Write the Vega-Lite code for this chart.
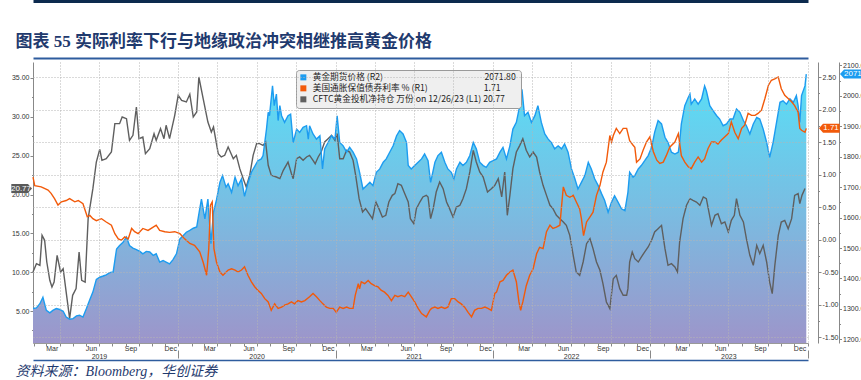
{
  "$schema": "https://vega.github.io/schema/vega-lite/v6.json",
  "width": 775,
  "height": 281,
  "autosize": {"type": "none"},
  "padding": {"left": 33, "top": 62, "right": 53, "bottom": 37},
  "background": "white",
  "config": {
    "view": {"stroke": null},
    "axis": {"labelFont": "Liberation Sans", "labelFontSize": 7, "labelColor": "#333333", "domainColor": "#888888", "tickColor": "#888888", "titleFont": "Liberation Sans"}
  },
  "datasets": {
    "gold": [
      {"date":"2019-01-29","gold":1301},{"date":"2019-02-06","gold":1303},{"date":"2019-02-14","gold":1317},{"date":"2019-02-21","gold":1338},
      {"date":"2019-03-01","gold":1295},{"date":"2019-03-09","gold":1287},{"date":"2019-03-16","gold":1295},{"date":"2019-03-24","gold":1301},
      {"date":"2019-04-01","gold":1298},{"date":"2019-04-09","gold":1292},{"date":"2019-04-16","gold":1273},{"date":"2019-04-24","gold":1266},
      {"date":"2019-05-02","gold":1268},{"date":"2019-05-10","gold":1277},{"date":"2019-05-17","gold":1279},{"date":"2019-05-25","gold":1273},
      {"date":"2019-06-02","gold":1301},{"date":"2019-06-10","gold":1331},{"date":"2019-06-17","gold":1355},{"date":"2019-06-25","gold":1397},
      {"date":"2019-07-03","gold":1404},{"date":"2019-07-11","gold":1408},{"date":"2019-07-18","gold":1412},{"date":"2019-07-26","gold":1419},
      {"date":"2019-08-03","gold":1421},{"date":"2019-08-11","gold":1497},{"date":"2019-08-18","gold":1508},{"date":"2019-08-26","gold":1519},
      {"date":"2019-09-03","gold":1536},{"date":"2019-09-10","gold":1508},{"date":"2019-09-18","gold":1500},{"date":"2019-09-26","gold":1495},
      {"date":"2019-10-04","gold":1489},{"date":"2019-10-11","gold":1481},{"date":"2019-10-19","gold":1489},{"date":"2019-10-27","gold":1487},
      {"date":"2019-11-04","gold":1476},{"date":"2019-11-11","gold":1481},{"date":"2019-11-19","gold":1454},{"date":"2019-11-27","gold":1459},
      {"date":"2019-12-04","gold":1454},{"date":"2019-12-12","gold":1448},{"date":"2019-12-20","gold":1462},{"date":"2019-12-28","gold":1481},
      {"date":"2020-01-05","gold":1530},{"date":"2020-01-13","gold":1541},{"date":"2020-01-20","gold":1552},{"date":"2020-01-28","gold":1558},
      {"date":"2020-02-05","gold":1565},{"date":"2020-02-13","gold":1569},{"date":"2020-02-20","gold":1629},{"date":"2020-02-24","gold":1661},
      {"date":"2020-03-03","gold":1596},{"date":"2020-03-10","gold":1661},{"date":"2020-03-17","gold":1514},{"date":"2020-03-23","gold":1618},
      {"date":"2020-03-30","gold":1659},{"date":"2020-04-07","gold":1716},{"date":"2020-04-13","gold":1738},{"date":"2020-04-21","gold":1700},
      {"date":"2020-04-26","gold":1711},{"date":"2020-05-04","gold":1683},{"date":"2020-05-12","gold":1733},{"date":"2020-05-19","gold":1705},
      {"date":"2020-05-27","gold":1727},{"date":"2020-06-03","gold":1670},{"date":"2020-06-11","gold":1714},{"date":"2020-06-19","gold":1749},
      {"date":"2020-06-27","gold":1769},{"date":"2020-07-04","gold":1787},{"date":"2020-07-12","gold":1793},{"date":"2020-07-16","gold":1804},
      {"date":"2020-07-24","gold":1891},{"date":"2020-07-28","gold":1946},{"date":"2020-07-31","gold":1935},{"date":"2020-08-07","gold":2033},
      {"date":"2020-08-11","gold":1968},{"date":"2020-08-16","gold":2006},{"date":"2020-08-20","gold":1919},{"date":"2020-08-24","gold":1968},
      {"date":"2020-08-28","gold":1935},{"date":"2020-09-04","gold":1913},{"date":"2020-09-12","gold":1935},{"date":"2020-09-18","gold":1940},
      {"date":"2020-09-24","gold":1847},{"date":"2020-10-02","gold":1891},{"date":"2020-10-09","gold":1880},{"date":"2020-10-17","gold":1897},
      {"date":"2020-10-25","gold":1902},{"date":"2020-10-29","gold":1858},{"date":"2020-11-01","gold":1902},{"date":"2020-11-09","gold":1875},
      {"date":"2020-11-17","gold":1858},{"date":"2020-11-25","gold":1869},{"date":"2020-12-01","gold":1760},{"date":"2020-12-06","gold":1826},
      {"date":"2020-12-14","gold":1847},{"date":"2020-12-22","gold":1869},{"date":"2020-12-30","gold":1858},{"date":"2021-01-04","gold":1935},
      {"date":"2021-01-10","gold":1847},{"date":"2021-01-18","gold":1836},{"date":"2021-01-26","gold":1815},{"date":"2021-02-02","gold":1831},
      {"date":"2021-02-10","gold":1815},{"date":"2021-02-18","gold":1793},{"date":"2021-02-25","gold":1749},{"date":"2021-03-05","gold":1694},
      {"date":"2021-03-13","gold":1705},{"date":"2021-03-21","gold":1716},{"date":"2021-03-28","gold":1705},{"date":"2021-04-05","gold":1749},
      {"date":"2021-04-13","gold":1760},{"date":"2021-04-21","gold":1782},{"date":"2021-04-28","gold":1793},{"date":"2021-05-06","gold":1815},
      {"date":"2021-05-14","gold":1836},{"date":"2021-05-22","gold":1869},{"date":"2021-05-29","gold":1886},{"date":"2021-06-06","gold":1875},
      {"date":"2021-06-14","gold":1847},{"date":"2021-06-18","gold":1771},{"date":"2021-06-25","gold":1760},{"date":"2021-07-03","gold":1771},
      {"date":"2021-07-11","gold":1782},{"date":"2021-07-19","gold":1793},{"date":"2021-07-26","gold":1809},{"date":"2021-08-03","gold":1787},
      {"date":"2021-08-09","gold":1716},{"date":"2021-08-19","gold":1782},{"date":"2021-08-26","gold":1804},{"date":"2021-09-03","gold":1815},
      {"date":"2021-09-11","gold":1782},{"date":"2021-09-18","gold":1760},{"date":"2021-09-26","gold":1749},{"date":"2021-10-02","gold":1727},
      {"date":"2021-10-08","gold":1760},{"date":"2021-10-16","gold":1782},{"date":"2021-10-23","gold":1771},{"date":"2021-10-31","gold":1782},
      {"date":"2021-11-08","gold":1804},{"date":"2021-11-16","gold":1847},{"date":"2021-11-23","gold":1826},{"date":"2021-12-01","gold":1782},
      {"date":"2021-12-09","gold":1771},{"date":"2021-12-16","gold":1765},{"date":"2021-12-24","gold":1782},{"date":"2022-01-01","gold":1787},
      {"date":"2022-01-09","gold":1793},{"date":"2022-01-17","gold":1815},{"date":"2022-01-24","gold":1831},{"date":"2022-02-01","gold":1793},
      {"date":"2022-02-09","gold":1836},{"date":"2022-02-16","gold":1891},{"date":"2022-02-24","gold":1913},{"date":"2022-03-04","gold":1968},
      {"date":"2022-03-09","gold":2022},{"date":"2022-03-15","gold":1935},{"date":"2022-03-23","gold":1946},{"date":"2022-03-31","gold":1913},
      {"date":"2022-04-08","gold":1935},{"date":"2022-04-15","gold":1968},{"date":"2022-04-23","gold":1913},{"date":"2022-05-01","gold":1875},
      {"date":"2022-05-09","gold":1858},{"date":"2022-05-16","gold":1847},{"date":"2022-05-24","gold":1826},{"date":"2022-06-01","gold":1836},
      {"date":"2022-06-09","gold":1826},{"date":"2022-06-16","gold":1842},{"date":"2022-06-24","gold":1815},{"date":"2022-07-02","gold":1760},
      {"date":"2022-07-10","gold":1727},{"date":"2022-07-17","gold":1694},{"date":"2022-07-25","gold":1716},{"date":"2022-08-02","gold":1738},
      {"date":"2022-08-10","gold":1782},{"date":"2022-08-17","gold":1760},{"date":"2022-08-25","gold":1727},{"date":"2022-09-02","gold":1705},
      {"date":"2022-09-10","gold":1678},{"date":"2022-09-17","gold":1656},{"date":"2022-09-25","gold":1618},{"date":"2022-10-03","gold":1651},
      {"date":"2022-10-10","gold":1672},{"date":"2022-10-18","gold":1651},{"date":"2022-10-26","gold":1629},{"date":"2022-11-03","gold":1623},
      {"date":"2022-11-10","gold":1683},{"date":"2022-11-14","gold":1749},{"date":"2022-11-22","gold":1733},{"date":"2022-11-26","gold":1738},
      {"date":"2022-12-04","gold":1760},{"date":"2022-12-11","gold":1771},{"date":"2022-12-19","gold":1787},{"date":"2022-12-27","gold":1804},
      {"date":"2023-01-04","gold":1831},{"date":"2023-01-11","gold":1880},{"date":"2023-01-19","gold":1919},{"date":"2023-01-27","gold":1908},
      {"date":"2023-02-04","gold":1864},{"date":"2023-02-11","gold":1847},{"date":"2023-02-19","gold":1815},{"date":"2023-02-27","gold":1809},
      {"date":"2023-03-07","gold":1815},{"date":"2023-03-10","gold":1847},{"date":"2023-03-14","gold":1908},{"date":"2023-03-22","gold":1968},
      {"date":"2023-03-30","gold":1995},{"date":"2023-04-03","gold":2006},{"date":"2023-04-06","gold":1973},{"date":"2023-04-14","gold":1990},
      {"date":"2023-04-22","gold":1973},{"date":"2023-04-30","gold":1990},{"date":"2023-05-07","gold":2033},{"date":"2023-05-11","gold":2017},
      {"date":"2023-05-19","gold":1968},{"date":"2023-05-27","gold":1951},{"date":"2023-06-04","gold":1935},{"date":"2023-06-11","gold":1924},
      {"date":"2023-06-19","gold":1902},{"date":"2023-06-27","gold":1908},{"date":"2023-07-05","gold":1924},{"date":"2023-07-12","gold":1924},
      {"date":"2023-07-20","gold":1957},{"date":"2023-07-28","gold":1946},{"date":"2023-08-05","gold":1919},{"date":"2023-08-12","gold":1902},
      {"date":"2023-08-20","gold":1875},{"date":"2023-08-28","gold":1908},{"date":"2023-09-05","gold":1929},{"date":"2023-09-12","gold":1924},
      {"date":"2023-09-20","gold":1891},{"date":"2023-09-28","gold":1847},{"date":"2023-10-05","gold":1798},{"date":"2023-10-13","gold":1847},
      {"date":"2023-10-21","gold":1913},{"date":"2023-10-29","gold":1979},{"date":"2023-11-05","gold":1984},{"date":"2023-11-13","gold":1973},
      {"date":"2023-11-21","gold":1990},{"date":"2023-11-29","gold":1979},{"date":"2023-12-06","gold":2001},{"date":"2023-12-10","gold":1968},
      {"date":"2023-12-14","gold":1913},{"date":"2023-12-18","gold":2001},{"date":"2023-12-26","gold":2033},{"date":"2023-12-29","gold":2071.8}
    ],
    "ry": [
      {"date":"2019-01-29","ry":0.96},{"date":"2019-02-02","ry":0.83},{"date":"2019-02-17","ry":0.81},{"date":"2019-03-05","ry":0.76},
      {"date":"2019-03-12","ry":0.71},{"date":"2019-03-20","ry":0.63},{"date":"2019-03-28","ry":0.53},{"date":"2019-04-05","ry":0.58},
      {"date":"2019-04-16","ry":0.60},{"date":"2019-04-24","ry":0.63},{"date":"2019-05-06","ry":0.58},{"date":"2019-05-14","ry":0.60},
      {"date":"2019-05-25","ry":0.55},{"date":"2019-05-30","ry":0.45},{"date":"2019-06-04","ry":0.35},{"date":"2019-06-10","ry":0.37},
      {"date":"2019-06-17","ry":0.32},{"date":"2019-06-25","ry":0.29},{"date":"2019-07-07","ry":0.32},{"date":"2019-07-18","ry":0.27},
      {"date":"2019-07-30","ry":0.22},{"date":"2019-08-07","ry":0.09},{"date":"2019-08-15","ry":0.01},{"date":"2019-08-22","ry":-0.01},
      {"date":"2019-08-30","ry":0.04},{"date":"2019-09-07","ry":0.01},{"date":"2019-09-15","ry":0.17},{"date":"2019-09-22","ry":0.12},
      {"date":"2019-09-30","ry":0.09},{"date":"2019-10-11","ry":0.17},{"date":"2019-10-23","ry":0.14},{"date":"2019-11-04","ry":0.19},
      {"date":"2019-11-11","ry":0.22},{"date":"2019-11-19","ry":0.14},{"date":"2019-12-01","ry":0.12},{"date":"2019-12-12","ry":0.11},
      {"date":"2019-12-24","ry":0.12},{"date":"2020-01-05","ry":0.09},{"date":"2020-01-16","ry":0.01},{"date":"2020-01-28","ry":-0.06},
      {"date":"2020-02-08","ry":-0.09},{"date":"2020-02-20","ry":-0.19},{"date":"2020-02-28","ry":-0.35},{"date":"2020-03-07","ry":-0.55},
      {"date":"2020-03-12","ry":-0.14},{"date":"2020-03-16","ry":0.53},{"date":"2020-03-20","ry":0.58},{"date":"2020-03-24","ry":-0.14},
      {"date":"2020-03-30","ry":-0.35},{"date":"2020-04-07","ry":-0.50},{"date":"2020-04-14","ry":-0.55},{"date":"2020-04-26","ry":-0.47},
      {"date":"2020-05-04","ry":-0.45},{"date":"2020-05-12","ry":-0.47},{"date":"2020-05-19","ry":-0.50},{"date":"2020-05-27","ry":-0.47},
      {"date":"2020-06-03","ry":-0.42},{"date":"2020-06-11","ry":-0.55},{"date":"2020-06-19","ry":-0.65},{"date":"2020-06-27","ry":-0.73},
      {"date":"2020-07-04","ry":-0.78},{"date":"2020-07-12","ry":-0.83},{"date":"2020-07-20","ry":-0.91},{"date":"2020-07-28","ry":-0.96},
      {"date":"2020-08-04","ry":-1.09},{"date":"2020-08-12","ry":-0.99},{"date":"2020-08-20","ry":-1.06},{"date":"2020-08-28","ry":-1.04},
      {"date":"2020-09-04","ry":-1.01},{"date":"2020-09-12","ry":-0.99},{"date":"2020-09-20","ry":-0.96},{"date":"2020-09-27","ry":-0.99},
      {"date":"2020-10-05","ry":-0.94},{"date":"2020-10-13","ry":-0.96},{"date":"2020-10-21","ry":-0.94},{"date":"2020-11-01","ry":-0.88},
      {"date":"2020-11-09","ry":-0.83},{"date":"2020-11-17","ry":-0.88},{"date":"2020-11-25","ry":-0.94},{"date":"2020-12-02","ry":-0.99},
      {"date":"2020-12-10","ry":-1.04},{"date":"2020-12-18","ry":-1.06},{"date":"2020-12-26","ry":-1.06},{"date":"2021-01-02","ry":-1.12},
      {"date":"2021-01-10","ry":-1.04},{"date":"2021-01-18","ry":-1.06},{"date":"2021-01-26","ry":-1.04},{"date":"2021-02-02","ry":-1.06},
      {"date":"2021-02-10","ry":-1.06},{"date":"2021-02-15","ry":-0.86},{"date":"2021-02-22","ry":-0.68},{"date":"2021-02-25","ry":-0.76},
      {"date":"2021-03-01","ry":-0.65},{"date":"2021-03-09","ry":-0.68},{"date":"2021-03-17","ry":-0.63},{"date":"2021-03-24","ry":-0.68},
      {"date":"2021-04-01","ry":-0.71},{"date":"2021-04-09","ry":-0.73},{"date":"2021-04-16","ry":-0.78},{"date":"2021-04-24","ry":-0.81},
      {"date":"2021-05-02","ry":-0.86},{"date":"2021-05-10","ry":-0.94},{"date":"2021-05-18","ry":-0.86},{"date":"2021-05-25","ry":-0.88},
      {"date":"2021-06-02","ry":-0.86},{"date":"2021-06-10","ry":-0.88},{"date":"2021-06-18","ry":-0.81},{"date":"2021-06-25","ry":-0.88},
      {"date":"2021-07-03","ry":-0.96},{"date":"2021-07-11","ry":-1.06},{"date":"2021-07-19","ry":-1.14},{"date":"2021-07-30","ry":-1.19},
      {"date":"2021-08-07","ry":-1.09},{"date":"2021-08-11","ry":-1.06},{"date":"2021-08-19","ry":-1.04},{"date":"2021-08-26","ry":-1.06},
      {"date":"2021-09-03","ry":-1.04},{"date":"2021-09-11","ry":-1.06},{"date":"2021-09-18","ry":-1.04},{"date":"2021-09-26","ry":-0.91},
      {"date":"2021-10-04","ry":-0.91},{"date":"2021-10-12","ry":-0.96},{"date":"2021-10-19","ry":-0.99},{"date":"2021-10-27","ry":-1.04},
      {"date":"2021-11-04","ry":-1.12},{"date":"2021-11-12","ry":-1.19},{"date":"2021-11-19","ry":-1.09},{"date":"2021-11-27","ry":-1.06},
      {"date":"2021-12-05","ry":-1.06},{"date":"2021-12-13","ry":-1.04},{"date":"2021-12-20","ry":-1.06},{"date":"2021-12-28","ry":-1.09},
      {"date":"2022-01-01","ry":-0.96},{"date":"2022-01-05","ry":-0.83},{"date":"2022-01-09","ry":-0.81},{"date":"2022-01-17","ry":-0.65},
      {"date":"2022-01-24","ry":-0.63},{"date":"2022-02-01","ry":-0.55},{"date":"2022-02-09","ry":-0.50},{"date":"2022-02-16","ry":-0.47},
      {"date":"2022-02-24","ry":-0.65},{"date":"2022-03-02","ry":-0.96},{"date":"2022-03-06","ry":-1.09},{"date":"2022-03-11","ry":-0.96},
      {"date":"2022-03-19","ry":-0.71},{"date":"2022-03-27","ry":-0.55},{"date":"2022-04-04","ry":-0.45},{"date":"2022-04-12","ry":-0.22},
      {"date":"2022-04-19","ry":-0.12},{"date":"2022-04-27","ry":-0.14},{"date":"2022-05-05","ry":0.12},{"date":"2022-05-13","ry":0.22},
      {"date":"2022-05-20","ry":0.17},{"date":"2022-05-28","ry":0.19},{"date":"2022-06-05","ry":0.22},{"date":"2022-06-13","ry":0.81},
      {"date":"2022-06-20","ry":0.68},{"date":"2022-06-28","ry":0.65},{"date":"2022-07-06","ry":0.68},{"date":"2022-07-13","ry":0.58},
      {"date":"2022-07-21","ry":0.47},{"date":"2022-07-25","ry":0.32},{"date":"2022-07-30","ry":0.06},{"date":"2022-08-06","ry":0.27},
      {"date":"2022-08-14","ry":0.35},{"date":"2022-08-21","ry":0.42},{"date":"2022-08-29","ry":0.68},{"date":"2022-09-06","ry":0.83},
      {"date":"2022-09-13","ry":1.04},{"date":"2022-09-21","ry":1.19},{"date":"2022-09-29","ry":1.60},{"date":"2022-10-03","ry":1.50},
      {"date":"2022-10-07","ry":1.60},{"date":"2022-10-14","ry":1.71},{"date":"2022-10-22","ry":1.63},{"date":"2022-10-30","ry":1.71},
      {"date":"2022-11-07","ry":1.71},{"date":"2022-11-14","ry":1.52},{"date":"2022-11-22","ry":1.45},{"date":"2022-11-26","ry":1.42},
      {"date":"2022-11-30","ry":1.19},{"date":"2022-12-08","ry":1.24},{"date":"2022-12-15","ry":1.37},{"date":"2022-12-23","ry":1.50},
      {"date":"2022-12-31","ry":1.58},{"date":"2023-01-08","ry":1.35},{"date":"2023-01-16","ry":1.22},{"date":"2023-01-23","ry":1.17},
      {"date":"2023-01-31","ry":1.19},{"date":"2023-02-07","ry":1.29},{"date":"2023-02-15","ry":1.42},{"date":"2023-02-27","ry":1.50},
      {"date":"2023-03-07","ry":1.63},{"date":"2023-03-14","ry":1.29},{"date":"2023-03-22","ry":1.19},{"date":"2023-03-30","ry":1.12},
      {"date":"2023-04-06","ry":1.09},{"date":"2023-04-14","ry":1.19},{"date":"2023-04-22","ry":1.27},{"date":"2023-04-30","ry":1.19},
      {"date":"2023-05-07","ry":1.24},{"date":"2023-05-15","ry":1.40},{"date":"2023-05-23","ry":1.50},{"date":"2023-05-31","ry":1.50},
      {"date":"2023-06-07","ry":1.47},{"date":"2023-06-15","ry":1.53},{"date":"2023-06-23","ry":1.58},{"date":"2023-07-01","ry":1.63},
      {"date":"2023-07-08","ry":1.81},{"date":"2023-07-16","ry":1.65},{"date":"2023-07-24","ry":1.55},{"date":"2023-08-01","ry":1.71},
      {"date":"2023-08-08","ry":1.76},{"date":"2023-08-16","ry":1.94},{"date":"2023-08-24","ry":1.91},{"date":"2023-09-01","ry":1.91},
      {"date":"2023-09-08","ry":1.94},{"date":"2023-09-16","ry":1.99},{"date":"2023-09-24","ry":2.17},{"date":"2023-10-02","ry":2.37},
      {"date":"2023-10-09","ry":2.45},{"date":"2023-10-17","ry":2.47},{"date":"2023-10-25","ry":2.50},{"date":"2023-11-01","ry":2.32},
      {"date":"2023-11-09","ry":2.22},{"date":"2023-11-17","ry":2.17},{"date":"2023-11-25","ry":2.12},{"date":"2023-12-02","ry":2.06},
      {"date":"2023-12-10","ry":1.96},{"date":"2023-12-14","ry":1.71},{"date":"2023-12-18","ry":1.68},{"date":"2023-12-26","ry":1.65},
      {"date":"2023-12-29","ry":1.71}
    ],
    "cftc": [
      {"date":"2019-01-29","cftc":10.02},{"date":"2019-02-06","cftc":11.09},{"date":"2019-02-14","cftc":10.88},{"date":"2019-02-19","cftc":14.74},
      {"date":"2019-02-25","cftc":14.10},{"date":"2019-03-02","cftc":11.31},{"date":"2019-03-09","cftc":8.95},{"date":"2019-03-14","cftc":8.09},
      {"date":"2019-03-19","cftc":8.73},{"date":"2019-03-26","cftc":12.17},{"date":"2019-04-03","cftc":10.02},{"date":"2019-04-09","cftc":10.45},
      {"date":"2019-04-17","cftc":7.02},{"date":"2019-04-24","cftc":4.01},{"date":"2019-05-01","cftc":7.02},{"date":"2019-05-09","cftc":7.88},
      {"date":"2019-05-16","cftc":12.60},{"date":"2019-05-22","cftc":8.95},{"date":"2019-05-30","cftc":8.73},{"date":"2019-06-06","cftc":16.89},
      {"date":"2019-06-17","cftc":20.75},{"date":"2019-06-25","cftc":24.18},{"date":"2019-07-03","cftc":25.82},{"date":"2019-07-08","cftc":24.40},
      {"date":"2019-07-18","cftc":24.61},{"date":"2019-07-30","cftc":25.47},{"date":"2019-08-07","cftc":29.12},{"date":"2019-08-18","cftc":29.12},
      {"date":"2019-08-24","cftc":29.98},{"date":"2019-09-03","cftc":29.76},{"date":"2019-09-10","cftc":26.97},{"date":"2019-09-18","cftc":27.62},
      {"date":"2019-09-26","cftc":31.27},{"date":"2019-10-02","cftc":27.19},{"date":"2019-10-11","cftc":27.40},{"date":"2019-10-17","cftc":25.26},
      {"date":"2019-10-27","cftc":25.90},{"date":"2019-11-06","cftc":27.83},{"date":"2019-11-11","cftc":26.97},{"date":"2019-11-21","cftc":28.48},
      {"date":"2019-11-29","cftc":27.19},{"date":"2019-12-04","cftc":28.91},{"date":"2019-12-12","cftc":27.19},{"date":"2019-12-24","cftc":30.19},
      {"date":"2020-01-01","cftc":32.77},{"date":"2020-01-09","cftc":32.12},{"date":"2020-01-20","cftc":31.91},{"date":"2020-01-28","cftc":32.90},
      {"date":"2020-02-05","cftc":29.98},{"date":"2020-02-13","cftc":30.62},{"date":"2020-02-18","cftc":35.13},{"date":"2020-02-28","cftc":32.34},
      {"date":"2020-03-10","cftc":29.33},{"date":"2020-03-18","cftc":28.05},{"date":"2020-03-23","cftc":28.69},{"date":"2020-04-03","cftc":25.26},
      {"date":"2020-04-10","cftc":24.83},{"date":"2020-04-18","cftc":25.04},{"date":"2020-04-26","cftc":26.12},{"date":"2020-05-08","cftc":24.61},
      {"date":"2020-05-15","cftc":25.04},{"date":"2020-05-23","cftc":23.33},{"date":"2020-05-31","cftc":22.04},{"date":"2020-06-07","cftc":20.97},
      {"date":"2020-06-15","cftc":22.47},{"date":"2020-06-23","cftc":25.04},{"date":"2020-07-01","cftc":26.55},{"date":"2020-07-08","cftc":26.55},
      {"date":"2020-07-16","cftc":26.33},{"date":"2020-07-22","cftc":26.76},{"date":"2020-07-28","cftc":23.76},{"date":"2020-08-04","cftc":22.47},
      {"date":"2020-08-16","cftc":22.25},{"date":"2020-08-24","cftc":22.04},{"date":"2020-09-01","cftc":23.11},{"date":"2020-09-12","cftc":24.18},
      {"date":"2020-09-20","cftc":22.68},{"date":"2020-09-24","cftc":22.04},{"date":"2020-10-02","cftc":24.61},{"date":"2020-10-09","cftc":24.83},
      {"date":"2020-10-17","cftc":24.40},{"date":"2020-10-25","cftc":24.83},{"date":"2020-11-01","cftc":25.04},{"date":"2020-11-09","cftc":24.40},
      {"date":"2020-11-14","cftc":23.97},{"date":"2020-11-21","cftc":24.83},{"date":"2020-11-28","cftc":25.47},{"date":"2020-12-06","cftc":26.76},
      {"date":"2020-12-14","cftc":27.19},{"date":"2020-12-22","cftc":27.62},{"date":"2020-12-30","cftc":26.97},{"date":"2021-01-04","cftc":27.83},
      {"date":"2021-01-10","cftc":24.61},{"date":"2021-01-18","cftc":24.61},{"date":"2021-01-26","cftc":25.69},{"date":"2021-02-02","cftc":25.47},
      {"date":"2021-02-10","cftc":24.40},{"date":"2021-02-16","cftc":22.47},{"date":"2021-02-24","cftc":19.46},{"date":"2021-03-04","cftc":17.75},
      {"date":"2021-03-11","cftc":18.18},{"date":"2021-03-19","cftc":17.53},{"date":"2021-03-27","cftc":16.89},{"date":"2021-04-04","cftc":19.03},
      {"date":"2021-04-11","cftc":18.18},{"date":"2021-04-19","cftc":17.10},{"date":"2021-04-27","cftc":17.32},{"date":"2021-05-04","cftc":19.03},
      {"date":"2021-05-12","cftc":19.89},{"date":"2021-05-18","cftc":20.11},{"date":"2021-05-25","cftc":21.39},{"date":"2021-06-02","cftc":21.18},
      {"date":"2021-06-10","cftc":20.11},{"date":"2021-06-18","cftc":19.03},{"date":"2021-06-23","cftc":16.89},{"date":"2021-07-01","cftc":16.24},
      {"date":"2021-07-07","cftc":18.18},{"date":"2021-07-15","cftc":19.03},{"date":"2021-07-22","cftc":19.68},{"date":"2021-07-30","cftc":19.89},
      {"date":"2021-08-03","cftc":19.68},{"date":"2021-08-09","cftc":16.89},{"date":"2021-08-15","cftc":18.18},{"date":"2021-08-22","cftc":20.32},
      {"date":"2021-08-30","cftc":21.61},{"date":"2021-09-07","cftc":20.75},{"date":"2021-09-15","cftc":19.03},{"date":"2021-09-22","cftc":18.18},
      {"date":"2021-09-30","cftc":17.10},{"date":"2021-10-08","cftc":18.39},{"date":"2021-10-16","cftc":18.61},{"date":"2021-10-23","cftc":19.46},
      {"date":"2021-10-31","cftc":20.75},{"date":"2021-11-08","cftc":22.90},{"date":"2021-11-16","cftc":25.69},{"date":"2021-11-23","cftc":24.18},
      {"date":"2021-12-01","cftc":22.90},{"date":"2021-12-09","cftc":22.25},{"date":"2021-12-19","cftc":20.32},{"date":"2021-12-28","cftc":20.75},
      {"date":"2022-01-05","cftc":21.18},{"date":"2022-01-13","cftc":22.04},{"date":"2022-01-21","cftc":19.68},{"date":"2022-01-28","cftc":22.90},
      {"date":"2022-02-03","cftc":17.32},{"date":"2022-02-09","cftc":19.89},{"date":"2022-02-16","cftc":23.33},{"date":"2022-02-24","cftc":25.47},
      {"date":"2022-03-04","cftc":26.33},{"date":"2022-03-11","cftc":27.19},{"date":"2022-03-19","cftc":25.69},{"date":"2022-03-27","cftc":24.83},
      {"date":"2022-04-04","cftc":25.47},{"date":"2022-04-12","cftc":24.83},{"date":"2022-04-19","cftc":22.90},{"date":"2022-04-27","cftc":21.18},
      {"date":"2022-05-05","cftc":19.89},{"date":"2022-05-13","cftc":18.61},{"date":"2022-05-20","cftc":18.18},{"date":"2022-05-28","cftc":17.32},
      {"date":"2022-06-05","cftc":16.89},{"date":"2022-06-13","cftc":16.46},{"date":"2022-06-20","cftc":16.03},{"date":"2022-06-28","cftc":14.74},
      {"date":"2022-07-06","cftc":12.17},{"date":"2022-07-13","cftc":10.02},{"date":"2022-07-21","cftc":9.59},{"date":"2022-07-29","cftc":11.31},
      {"date":"2022-08-06","cftc":13.67},{"date":"2022-08-14","cftc":14.31},{"date":"2022-08-21","cftc":13.03},{"date":"2022-08-29","cftc":11.31},
      {"date":"2022-09-06","cftc":10.24},{"date":"2022-09-13","cftc":8.52},{"date":"2022-09-21","cftc":6.16},{"date":"2022-09-29","cftc":5.30},
      {"date":"2022-10-07","cftc":9.16},{"date":"2022-10-14","cftc":9.59},{"date":"2022-10-22","cftc":7.88},{"date":"2022-10-30","cftc":7.02},
      {"date":"2022-11-07","cftc":7.02},{"date":"2022-11-10","cftc":7.88},{"date":"2022-11-14","cftc":11.31},{"date":"2022-11-20","cftc":12.60},
      {"date":"2022-11-26","cftc":11.74},{"date":"2022-12-04","cftc":11.31},{"date":"2022-12-11","cftc":11.95},{"date":"2022-12-19","cftc":12.60},
      {"date":"2022-12-27","cftc":13.24},{"date":"2023-01-04","cftc":14.10},{"date":"2023-01-11","cftc":15.17},{"date":"2023-01-19","cftc":15.60},
      {"date":"2023-01-27","cftc":16.03},{"date":"2023-02-04","cftc":13.03},{"date":"2023-02-11","cftc":10.88},{"date":"2023-02-19","cftc":11.09},
      {"date":"2023-02-27","cftc":10.67},{"date":"2023-03-05","cftc":10.02},{"date":"2023-03-10","cftc":13.88},{"date":"2023-03-18","cftc":16.89},
      {"date":"2023-03-26","cftc":18.61},{"date":"2023-04-03","cftc":19.46},{"date":"2023-04-10","cftc":19.25},{"date":"2023-04-18","cftc":19.03},
      {"date":"2023-04-26","cftc":18.61},{"date":"2023-05-04","cftc":19.68},{"date":"2023-05-11","cftc":19.46},{"date":"2023-05-23","cftc":16.03},
      {"date":"2023-05-31","cftc":17.32},{"date":"2023-06-07","cftc":17.53},{"date":"2023-06-15","cftc":16.24},{"date":"2023-06-23","cftc":16.46},
      {"date":"2023-07-01","cftc":15.17},{"date":"2023-07-08","cftc":16.67},{"date":"2023-07-15","cftc":17.32},{"date":"2023-07-20","cftc":19.46},
      {"date":"2023-07-28","cftc":17.32},{"date":"2023-08-05","cftc":16.46},{"date":"2023-08-12","cftc":14.31},{"date":"2023-08-20","cftc":12.17},
      {"date":"2023-08-28","cftc":10.88},{"date":"2023-09-05","cftc":13.45},{"date":"2023-09-12","cftc":12.38},{"date":"2023-09-20","cftc":13.45},
      {"date":"2023-09-28","cftc":11.31},{"date":"2023-10-05","cftc":8.73},{"date":"2023-10-11","cftc":7.23},{"date":"2023-10-17","cftc":10.88},
      {"date":"2023-10-25","cftc":14.74},{"date":"2023-11-01","cftc":16.46},{"date":"2023-11-09","cftc":16.67},{"date":"2023-11-17","cftc":15.60},
      {"date":"2023-11-25","cftc":16.89},{"date":"2023-12-02","cftc":19.89},{"date":"2023-12-10","cftc":20.11},{"date":"2023-12-14","cftc":18.82},
      {"date":"2023-12-19","cftc":19.89},{"date":"2023-12-26","cftc":20.77}
    ]
  },
  "layer": [
    {
      "data": {"name": "gold"},
      "mark": {"type": "area", "opacity": 1, "color": {"gradient": "linear", "x1": 0, "y1": 0, "x2": 0, "y2": 1, "stops": [{"offset": 0, "color": "#58dff7"}, {"offset": 0.5, "color": "#79bde2"}, {"offset": 1, "color": "#9d95ca"}]}},
      "encoding": {
        "x": {"field": "date", "type": "temporal", "scale": {"type": "utc", "domain": [{"year": 2019, "month": 1, "date": 29, "utc": true}, {"year": 2024, "month": 1, "date": 2, "utc": true}]},
          "axis": {"orient": "bottom", "title": null, "labels": false, "tickCount": {"interval": "month", "step": 1}, "ticks": true, "tickSize": 3, "domain": true, "domainColor": "#999999", "grid": true, "gridColor": "#b5b5b5", "gridDash": [1, 2], "gridOpacity": {"condition": {"test": "utcmonth(datum.value) % 3 == 0", "value": 1}, "value": 0}, "zindex": 1}},
        "y": {"field": "gold", "type": "quantitative", "scale": {"domain": [1187.8, 2111.5], "nice": false, "zero": false, "clamp": true},
          "axis": {"orient": "right", "offset": 31, "title": null, "grid": false, "values": [1200,1250,1300,1350,1400,1450,1500,1550,1600,1650,1700,1750,1800,1850,1900,1950,2000,2050,2100], "labelExpr": "datum.value % 100 == 0 ? format(datum.value, '.2f') : ''", "tickSize": {"condition": {"test": "datum.value % 100 != 0", "value": 1.5}, "value": 2.5}, "labelPadding": 1, "labelOverlap": false, "labelFlush": false}}
      }
    },
    {
      "data": {"name": "cftc"},
      "mark": {"type": "line", "strokeWidth": 1.4},
      "encoding": {
        "x": {"field": "date", "type": "temporal", "scale": {"type": "utc", "domain": [{"year": 2019, "month": 1, "date": 29, "utc": true}, {"year": 2024, "month": 1, "date": 2, "utc": true}]},
          "axis": {"orient": "bottom", "title": null, "tickCount": {"interval": "month", "step": 3}, "ticks": false, "domain": false, "grid": false, "labelExpr": "utcFormat(datum.value - 86400000, '%b')", "labelOffset": -8, "labelPadding": 1, "labelBaseline": "top", "labelFlush": false, "labelOverlap": false}},
        "y": {"field": "cftc", "type": "quantitative", "scale": {"domain": [0.88, 37.06], "nice": false, "zero": false},
          "axis": {"orient": "left", "title": null, "grid": false, "values": [2.5,5,7.5,10,12.5,15,17.5,20,22.5,25,27.5,30,32.5,35], "labelExpr": "datum.value % 5 == 0 ? format(datum.value, '.2f') : ''", "tickSize": {"condition": {"test": "datum.value % 5 != 0", "value": 1.5}, "value": 3}, "labelPadding": 1, "labelOverlap": false, "labelFlush": false}},
        "color": {"datum": "CFTC黄金投机净持仓 万份 on 12/26/23 (L1)", "type": "nominal",
          "scale": {"domain": ["黄金期货价格  (R2)", "美国通胀保值债券利率 % (R1)", "CFTC黄金投机净持仓 万份 on 12/26/23 (L1)"], "range": ["#1c9cf0", "#f25a0a", "#5f5f5f"]},
          "legend": {"title": null, "orient": "none", "legendX": 263, "legendY": 8, "direction": "vertical", "padding": 3, "fillColor": "#efefef", "strokeColor": "#9a9a9a", "cornerRadius": 3, "symbolType": "square", "symbolSize": 36, "symbolStrokeWidth": 0, "labelFont": "Noto Sans CJK SC", "labelFontSize": 8.7, "labelColor": "#222222", "labelOffset": 5, "labelLimit": 400, "rowPadding": 1,
            "labelExpr": "indexof(datum.label, 'CFTC') == 0 ? datum.label + ' 20.77' : (indexof(datum.label, '(R2)') > 0 ? datum.label + '\u3000\u3000\u3000\u3000\u3000\u3000\u3000\u3000\u3000\u3000\u3000\u00a0\u00a0\u00a02071.80' : datum.label + '\u3000\u3000\u3000\u3000\u3000\u3000\u00a0\u00a01.71')",
            "encode": {"symbols": {"update": {"fill": {"scale": "color", "field": "value"}, "opacity": {"value": 1}}}}}}
      }
    },
    {
      "data": {"name": "gold"},
      "mark": {"type": "line", "strokeWidth": 1.4},
      "encoding": {
        "x": {"field": "date", "type": "temporal", "scale": {"type": "utc", "domain": [{"year": 2019, "month": 1, "date": 29, "utc": true}, {"year": 2024, "month": 1, "date": 2, "utc": true}]},
          "axis": {"orient": "bottom", "offset": 7, "title": null, "domain": false, "grid": false,
            "values": [{"year": 2019, "month": 7, "date": 1, "utc": true}, {"year": 2020, "month": 1, "date": 1, "utc": true}, {"year": 2020, "month": 7, "date": 1, "utc": true}, {"year": 2021, "month": 1, "date": 1, "utc": true}, {"year": 2021, "month": 7, "date": 1, "utc": true}, {"year": 2022, "month": 1, "date": 1, "utc": true}, {"year": 2022, "month": 7, "date": 1, "utc": true}, {"year": 2023, "month": 1, "date": 1, "utc": true}, {"year": 2023, "month": 7, "date": 1, "utc": true}, {"year": 2024, "month": 1, "date": 1, "utc": true}],
            "tickSize": 8, "tickOpacity": {"condition": {"test": "utcmonth(datum.value) == 0", "value": 1}, "value": 0},
            "labelExpr": "utcmonth(datum.value) == 6 ? utcFormat(datum.value, '%Y') : ''", "labelPadding": -6, "labelBaseline": "top", "labelFlush": false, "labelOverlap": false}},
        "y": {"field": "gold", "type": "quantitative", "scale": {"domain": [1187.8, 2111.5], "nice": false, "zero": false}, "axis": null},
        "color": {"datum": "黄金期货价格  (R2)", "type": "nominal"}
      }
    },
    {
      "data": {"name": "ry"},
      "mark": {"type": "line", "strokeWidth": 1.4},
      "encoding": {
        "x": {"field": "date", "type": "temporal", "scale": {"type": "utc", "domain": [{"year": 2019, "month": 1, "date": 29, "utc": true}, {"year": 2024, "month": 1, "date": 2, "utc": true}]},
          "axis": {"orient": "bottom", "offset": 17, "labels": false, "ticks": false, "grid": false, "domain": true, "domainColor": "#2e5c9e", "domainWidth": 1.5,
            "title": "资料来源：Bloomberg，华创证券", "titleX": -18, "titleY": 15, "titleAlign": "left", "titleBaseline": "alphabetic", "titleFont": "Liberation Serif, Noto Sans CJK SC", "titleFontSize": 14, "titleFontStyle": "italic", "titleFontWeight": "normal", "titleColor": "#1f3a6e"}},
        "y": {"field": "ry", "type": "quantitative", "scale": {"domain": [-1.592, 2.731], "nice": false, "zero": false},
          "axis": {"orient": "right", "offset": 10, "title": null, "values": [-1.5,-1.25,-1,-0.75,-0.5,-0.25,0,0.25,0.5,0.75,1,1.25,1.5,1.75,2,2.25,2.5],
            "labelExpr": "abs(datum.value*2 - round(datum.value*2)) < 0.01 ? replace(format(datum.value, '.2f'), '\u2212', '-') : ''",
            "tickSize": {"condition": {"test": "abs(datum.value*2 - round(datum.value*2)) > 0.01", "value": 1.5}, "value": 3},
            "grid": true, "gridColor": "#b5b5b5", "gridDash": [1, 2], "gridOpacity": {"condition": {"test": "abs(datum.value*2 - round(datum.value*2)) > 0.01", "value": 0}, "value": 1}, "zindex": 1,
            "labelPadding": 1, "labelOverlap": false, "labelFlush": false}},
        "color": {"datum": "美国通胀保值债券利率 % (R1)", "type": "nominal"}
      }
    },
    {
      "data": {"name": "gold"},
      "transform": [{"filter": "utcFormat(toDate(datum.date), '%Y-%m-%d') == '2023-12-29'"}],
      "mark": {"type": "point", "shape": "M0,0L0.9,-1H8V1H0.9Z", "filled": true, "size": 81, "color": "#1c9cf0", "opacity": 1, "strokeWidth": 0, "xOffset": 32},
      "encoding": {
        "x": {"datum": {"year": 2024, "month": 1, "date": 2, "utc": true}, "type": "temporal", "scale": {"type": "utc", "domain": [{"year": 2019, "month": 1, "date": 29, "utc": true}, {"year": 2024, "month": 1, "date": 2, "utc": true}]},
          "axis": {"orient": "top", "offset": 4, "labels": false, "ticks": false, "grid": false, "domain": true, "domainColor": "#2e5c9e", "domainWidth": 2,
            "title": "图表 55 实际利率下行与地缘政治冲突相继推高黄金价格", "titleX": -18, "titleY": -12, "titleAlign": "left", "titleBaseline": "alphabetic", "titleFont": "Liberation Serif, Noto Sans CJK SC", "titleFontSize": 17, "titleFontWeight": "bold", "titleColor": "#1f3a6e"}},
        "y": {"field": "gold", "type": "quantitative", "scale": {"domain": [1187.8, 2111.5], "nice": false, "zero": false}, "axis": null}
      }
    },
    {
      "data": {"name": "gold"},
      "transform": [{"filter": "utcFormat(toDate(datum.date), '%Y-%m-%d') == '2023-12-29'"}],
      "mark": {"type": "text", "dx": 36, "align": "left", "baseline": "middle", "color": "white", "font": "Liberation Sans", "fontSize": 8},
      "encoding": {
        "x": {"datum": {"year": 2024, "month": 1, "date": 2, "utc": true}, "type": "temporal", "scale": {"type": "utc", "domain": [{"year": 2019, "month": 1, "date": 29, "utc": true}, {"year": 2024, "month": 1, "date": 2, "utc": true}]},
          "axis": {"orient": "top", "offset": 61, "labels": false, "ticks": false, "grid": false, "domain": true, "domainColor": "#0c2a4e", "domainWidth": 3, "title": null}},
        "y": {"field": "gold", "type": "quantitative", "scale": {"domain": [1187.8, 2111.5], "nice": false, "zero": false}, "axis": null},
        "text": {"field": "gold", "type": "quantitative", "format": ".2f"}
      }
    },
    {
      "data": {"name": "ry"},
      "transform": [{"filter": "utcFormat(toDate(datum.date), '%Y-%m-%d') == '2023-12-29'"}],
      "mark": {"type": "point", "shape": "M0,0L0.9,-1H4.6V1H0.9Z", "filled": true, "size": 81, "color": "#f25a0a", "opacity": 1, "strokeWidth": 0, "xOffset": 11},
      "encoding": {
        "x": {"datum": {"year": 2024, "month": 1, "date": 2, "utc": true}, "type": "temporal", "scale": {"type": "utc", "domain": [{"year": 2019, "month": 1, "date": 29, "utc": true}, {"year": 2024, "month": 1, "date": 2, "utc": true}]}, "axis": null},
        "y": {"field": "ry", "type": "quantitative", "scale": {"domain": [-1.592, 2.731], "nice": false, "zero": false}, "axis": null}
      }
    },
    {
      "data": {"name": "ry"},
      "transform": [{"filter": "utcFormat(toDate(datum.date), '%Y-%m-%d') == '2023-12-29'"}],
      "mark": {"type": "text", "dx": 23, "align": "center", "baseline": "middle", "color": "white", "font": "Liberation Sans", "fontSize": 8},
      "encoding": {
        "x": {"datum": {"year": 2024, "month": 1, "date": 2, "utc": true}, "type": "temporal", "scale": {"type": "utc", "domain": [{"year": 2019, "month": 1, "date": 29, "utc": true}, {"year": 2024, "month": 1, "date": 2, "utc": true}]}, "axis": null},
        "y": {"field": "ry", "type": "quantitative", "scale": {"domain": [-1.592, 2.731], "nice": false, "zero": false}, "axis": null},
        "text": {"field": "ry", "type": "quantitative", "format": ".2f"}
      }
    },
    {
      "data": {"name": "cftc"},
      "transform": [{"filter": "utcFormat(toDate(datum.date), '%Y-%m-%d') == '2023-12-26'"}],
      "mark": {"type": "point", "shape": "M0,0L-0.9,-1H-4.6V1H-0.9Z", "filled": true, "size": 81, "color": "#5a5a5a", "opacity": 1, "strokeWidth": 0, "xOffset": -1},
      "encoding": {
        "x": {"datum": {"year": 2019, "month": 1, "date": 29, "utc": true}, "type": "temporal", "scale": {"type": "utc", "domain": [{"year": 2019, "month": 1, "date": 29, "utc": true}, {"year": 2024, "month": 1, "date": 2, "utc": true}]}, "axis": null},
        "y": {"field": "cftc", "type": "quantitative", "scale": {"domain": [0.88, 37.06], "nice": false, "zero": false}, "axis": null}
      }
    },
    {
      "data": {"name": "cftc"},
      "transform": [{"filter": "utcFormat(toDate(datum.date), '%Y-%m-%d') == '2023-12-26'"}],
      "mark": {"type": "text", "dx": -12, "align": "center", "baseline": "middle", "color": "white", "font": "Liberation Sans", "fontSize": 8},
      "encoding": {
        "x": {"datum": {"year": 2019, "month": 1, "date": 29, "utc": true}, "type": "temporal", "scale": {"type": "utc", "domain": [{"year": 2019, "month": 1, "date": 29, "utc": true}, {"year": 2024, "month": 1, "date": 2, "utc": true}]}, "axis": null},
        "y": {"field": "cftc", "type": "quantitative", "scale": {"domain": [0.88, 37.06], "nice": false, "zero": false}, "axis": null},
        "text": {"field": "cftc", "type": "quantitative", "format": ".2f"}
      }
    }
  ],
  "resolve": {"scale": {"y": "independent"}, "axis": {"x": "independent", "y": "independent"}}
}
